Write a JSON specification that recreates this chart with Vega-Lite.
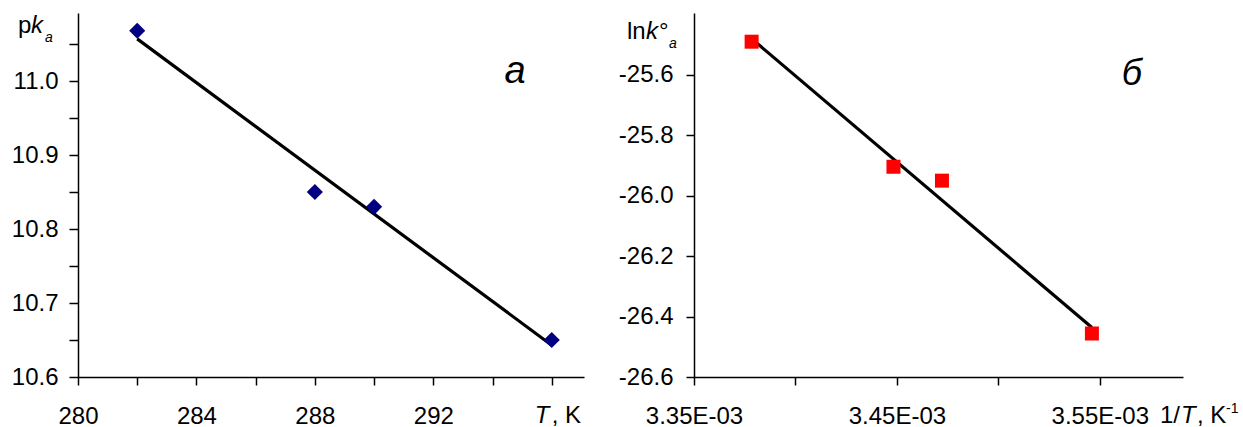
{
  "$schema": "https://vega.github.io/schema/vega-lite/v6.json",
  "padding": {"left": 11, "top": 13, "right": 0, "bottom": 0},
  "spacing": 34,
  "background": "white",
  "config": {
    "view": {"stroke": null},
    "font": "Liberation Sans",
    "axis": {
      "grid": false,
      "domainColor": "black",
      "domainWidth": 1.5,
      "tickColor": "black",
      "tickWidth": 1.5,
      "labelFont": "Liberation Sans",
      "labelFontSize": 24,
      "labelColor": "black",
      "labelOverlap": false,
      "labelFlush": false,
      "title": null
    },
    "text": {"font": "Liberation Sans", "color": "black"}
  },
  "datasets": {
    "a_points": [
      {"T": 282, "pKa": 11.068},
      {"T": 288, "pKa": 10.85},
      {"T": 290, "pKa": 10.83},
      {"T": 296, "pKa": 10.65}
    ],
    "a_line": [
      {"T": 282, "pKa": 11.057},
      {"T": 296, "pKa": 10.643}
    ],
    "b_points": [
      {"invT": 0.0033784, "lnK": -25.49},
      {"invT": 0.0034483, "lnK": -25.904},
      {"invT": 0.0034722, "lnK": -25.95},
      {"invT": 0.0035461, "lnK": -26.456}
    ],
    "b_line": [
      {"invT": 0.0033784, "lnK": -25.48},
      {"invT": 0.0035461, "lnK": -26.436}
    ],
    "one": [{}]
  },
  "hconcat": [
    {
      "width": 506,
      "height": 364,
      "layer": [
        {
          "data": {"name": "a_line"},
          "mark": {"type": "line", "color": "black", "strokeWidth": 3.2},
          "encoding": {
            "x": {
              "field": "T", "type": "quantitative",
              "scale": {"domain": [280, 297.09], "nice": false, "zero": false},
              "axis": {
                "values": [280, 282, 284, 286, 288, 290, 292, 294, 296],
                "labelExpr": "datum.value % 4 == 0 && datum.value < 296 ? datum.value : ''",
                "tickSize": 8,
                "labelPadding": 19
              }
            },
            "y": {
              "field": "pKa", "type": "quantitative",
              "scale": {"domain": [10.6, 11.092], "nice": false, "zero": false},
              "axis": {
                "values": [10.6, 10.65, 10.7, 10.75, 10.8, 10.85, 10.9, 10.95, 11.0, 11.05],
                "labelExpr": "abs(datum.value*10 - round(datum.value*10)) < 0.01 ? format(datum.value, '.1f') : ''",
                "tickSize": 9,
                "labelPadding": 11
              }
            }
          }
        },
        {
          "data": {"name": "a_points"},
          "mark": {"type": "point", "shape": "diamond", "filled": true, "color": "#000080", "size": 260, "opacity": 1},
          "encoding": {
            "x": {"field": "T", "type": "quantitative"},
            "y": {"field": "pKa", "type": "quantitative"}
          }
        },
        {
          "data": {"name": "one"},
          "mark": {"type": "text", "text": "a", "fontSize": 38, "fontStyle": "italic", "align": "center", "baseline": "alphabetic", "dy": 2},
          "encoding": {"x": {"datum": 294.76}, "y": {"datum": 11.0}}
        },
        {
          "data": {"name": "one"},
          "mark": {"type": "text", "text": "p", "fontSize": 24, "align": "left", "baseline": "alphabetic", "dx": -60, "dy": 20},
          "encoding": {"x": {"datum": 280}, "y": {"datum": 11.092}}
        },
        {
          "data": {"name": "one"},
          "mark": {"type": "text", "text": "k", "fontSize": 24, "fontStyle": "italic", "align": "left", "baseline": "alphabetic", "dx": -47, "dy": 20},
          "encoding": {"x": {"datum": 280}, "y": {"datum": 11.092}}
        },
        {
          "data": {"name": "one"},
          "mark": {"type": "text", "text": "a", "fontSize": 14, "fontStyle": "italic", "align": "left", "baseline": "alphabetic", "dx": -33, "dy": 29},
          "encoding": {"x": {"datum": 280}, "y": {"datum": 11.092}}
        },
        {
          "data": {"name": "one"},
          "mark": {"type": "text", "text": "T", "fontSize": 24, "fontStyle": "italic", "align": "left", "baseline": "alphabetic", "dx": -17, "dy": 46},
          "encoding": {"x": {"datum": 296}, "y": {"datum": 10.6}}
        },
        {
          "data": {"name": "one"},
          "mark": {"type": "text", "text": ", K", "fontSize": 24, "align": "left", "baseline": "alphabetic", "dx": 0, "dy": 46},
          "encoding": {"x": {"datum": 296}, "y": {"datum": 10.6}}
        }
      ]
    },
    {
      "width": 489,
      "height": 364,
      "layer": [
        {
          "data": {"name": "b_line"},
          "mark": {"type": "line", "color": "black", "strokeWidth": 3.2},
          "encoding": {
            "x": {
              "field": "invT", "type": "quantitative",
              "scale": {"domain": [0.00335, 0.003591], "nice": false, "zero": false},
              "axis": {
                "values": [0.00335, 0.0034, 0.00345, 0.0035, 0.00355],
                "labelExpr": "round(datum.value*1e5) % 10 == 5 ? format(datum.value*1000, '.2f') + 'E-03' : ''",
                "tickSize": 8,
                "labelPadding": 19
              }
            },
            "y": {
              "field": "lnK", "type": "quantitative",
              "scale": {"domain": [-26.6, -25.395], "nice": false, "zero": false},
              "axis": {
                "values": [-26.6, -26.5, -26.4, -26.3, -26.2, -26.1, -26.0, -25.9, -25.8, -25.7, -25.6, -25.5],
                "labelExpr": "abs(datum.value*5 - round(datum.value*5)) < 0.01 ? '-' + format(abs(datum.value), '.1f') : ''",
                "tickSize": 8,
                "labelPadding": 13
              }
            }
          }
        },
        {
          "data": {"name": "b_points"},
          "mark": {"type": "point", "shape": "square", "filled": true, "color": "#FF0000", "size": 196, "opacity": 1},
          "encoding": {
            "x": {"field": "invT", "type": "quantitative"},
            "y": {"field": "lnK", "type": "quantitative"}
          }
        },
        {
          "data": {"name": "one"},
          "mark": {"type": "text", "text": "б", "fontSize": 36, "fontStyle": "italic", "align": "center", "baseline": "alphabetic", "dy": 10},
          "encoding": {"x": {"datum": 0.0035658}, "y": {"datum": -25.6}}
        },
        {
          "data": {"name": "one"},
          "mark": {"type": "text", "text": "ln", "fontSize": 24, "align": "left", "baseline": "alphabetic", "dx": -67, "dy": 26},
          "encoding": {"x": {"datum": 0.00335}, "y": {"datum": -25.395}}
        },
        {
          "data": {"name": "one"},
          "mark": {"type": "text", "text": "k", "fontSize": 24, "fontStyle": "italic", "align": "left", "baseline": "alphabetic", "dx": -48, "dy": 26},
          "encoding": {"x": {"datum": 0.00335}, "y": {"datum": -25.395}}
        },
        {
          "data": {"name": "one"},
          "mark": {"type": "text", "text": "°", "fontSize": 24, "align": "left", "baseline": "alphabetic", "dx": -35, "dy": 26},
          "encoding": {"x": {"datum": 0.00335}, "y": {"datum": -25.395}}
        },
        {
          "data": {"name": "one"},
          "mark": {"type": "text", "text": "a", "fontSize": 14, "fontStyle": "italic", "align": "left", "baseline": "alphabetic", "dx": -25, "dy": 35},
          "encoding": {"x": {"datum": 0.00335}, "y": {"datum": -25.395}}
        },
        {
          "data": {"name": "one"},
          "mark": {"type": "text", "text": "1/", "fontSize": 24, "align": "left", "baseline": "alphabetic", "dx": -23, "dy": 46},
          "encoding": {"x": {"datum": 0.003591}, "y": {"datum": -26.6}}
        },
        {
          "data": {"name": "one"},
          "mark": {"type": "text", "text": "T", "fontSize": 24, "fontStyle": "italic", "align": "left", "baseline": "alphabetic", "dx": -2, "dy": 46},
          "encoding": {"x": {"datum": 0.003591}, "y": {"datum": -26.6}}
        },
        {
          "data": {"name": "one"},
          "mark": {"type": "text", "text": ", K", "fontSize": 24, "align": "left", "baseline": "alphabetic", "dx": 14, "dy": 46},
          "encoding": {"x": {"datum": 0.003591}, "y": {"datum": -26.6}}
        },
        {
          "data": {"name": "one"},
          "mark": {"type": "text", "text": "-1", "fontSize": 14, "align": "left", "baseline": "alphabetic", "dx": 43, "dy": 36},
          "encoding": {"x": {"datum": 0.003591}, "y": {"datum": -26.6}}
        }
      ]
    }
  ]
}
